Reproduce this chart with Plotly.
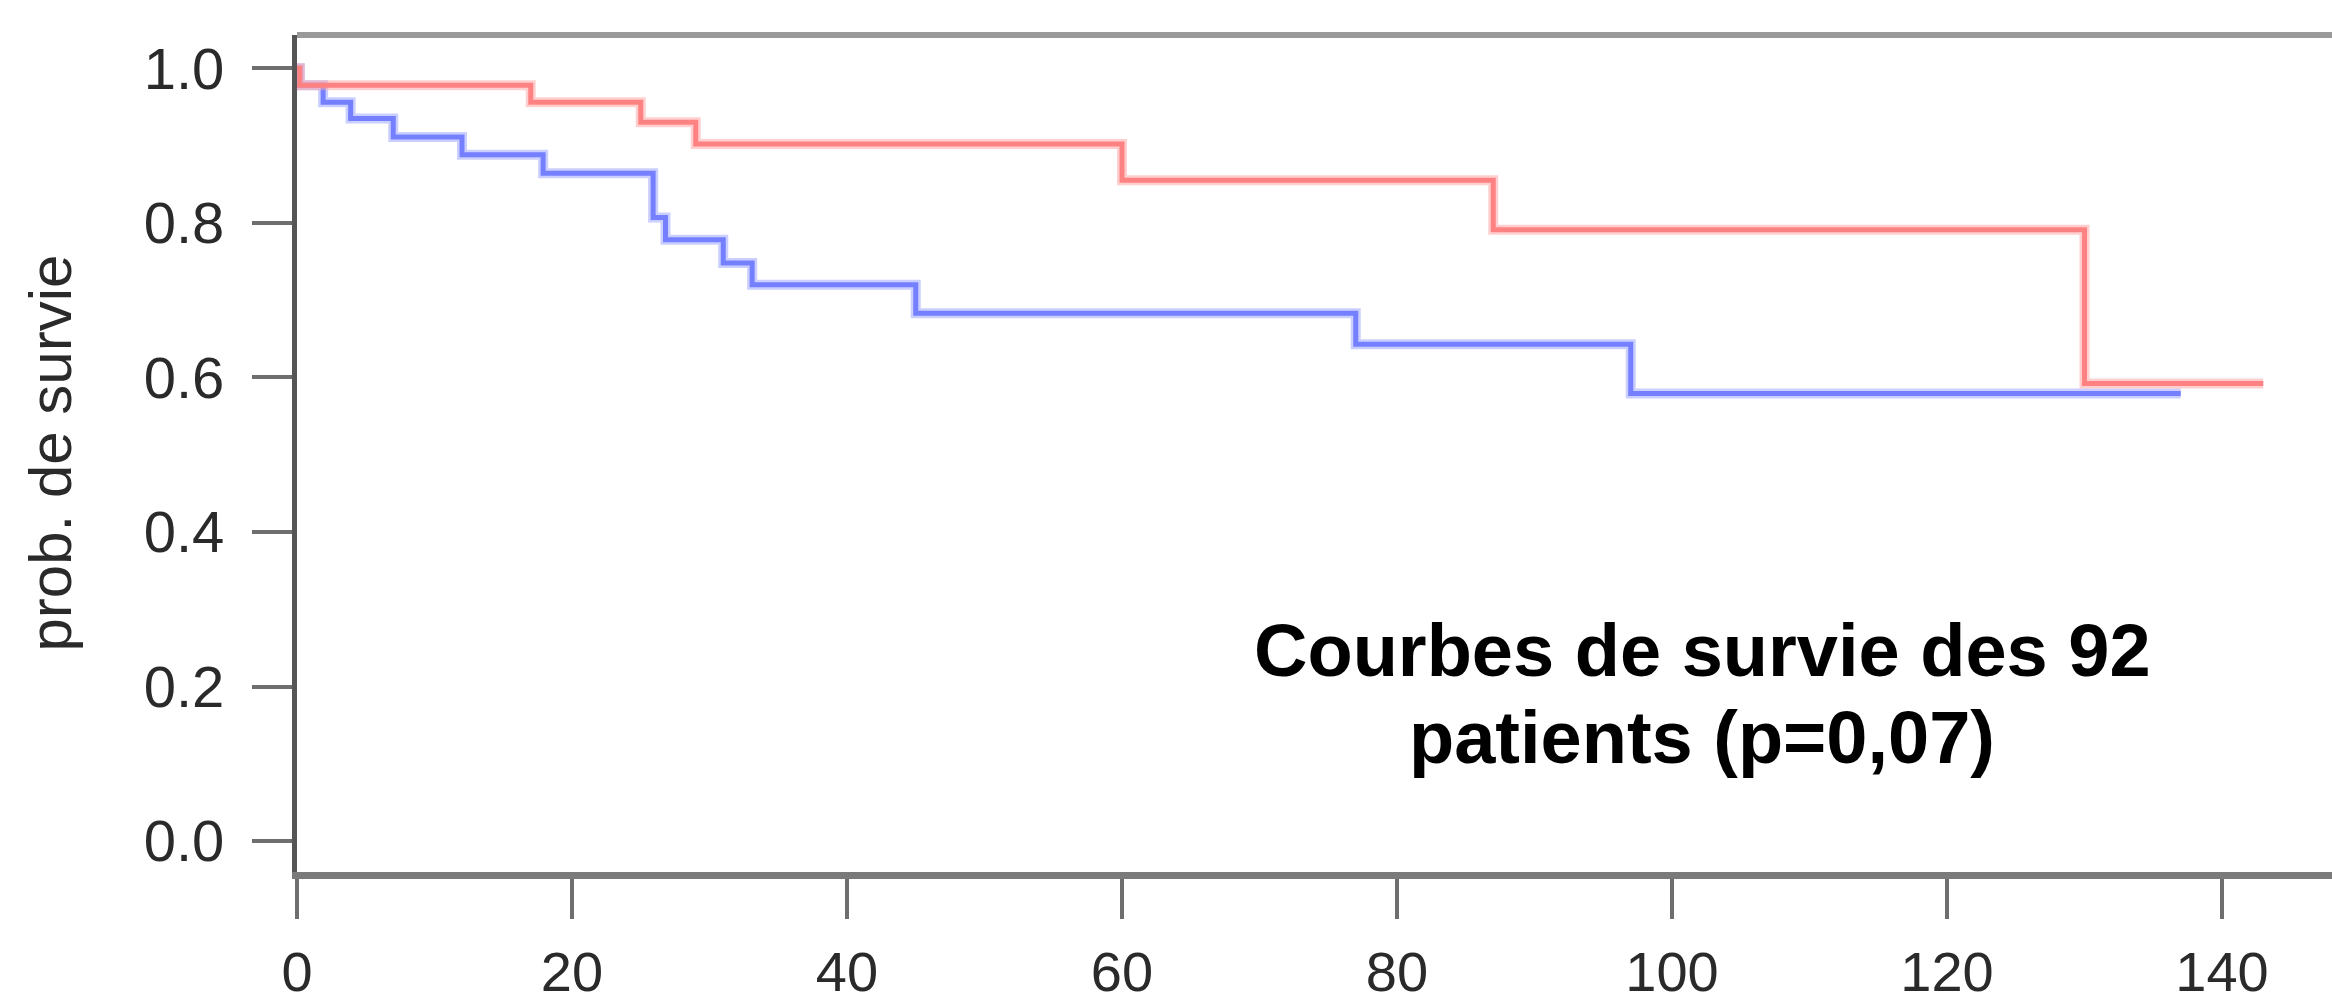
import plotly.graph_objects as go

# ---- data (Kaplan-Meier style step curves) ----
red_times = [0, 0.2, 17, 25, 29, 60, 87, 130, 143]
red_surv = [1.0, 0.978, 0.956, 0.930, 0.902, 0.855, 0.791, 0.592, 0.592]

blue_times = [0, 0.2, 1.9, 3.9, 7, 12, 17.9, 25.9, 26.8, 31, 33.1, 45, 77, 97, 137]
blue_surv = [1.0, 0.978, 0.956, 0.935, 0.911, 0.888, 0.864, 0.807, 0.778,
             0.748, 0.720, 0.683, 0.643, 0.579, 0.579]

x_ticks = [0, 20, 40, 60, 80, 100, 120, 140]
y_ticks = [0.0, 0.2, 0.4, 0.6, 0.8, 1.0]
y_ticktext = ["0.0", "0.2", "0.4", "0.6", "0.8", "1.0"]

y_title = "prob. de survie"
note_line1 = "Courbes de survie des 92"
note_line2 = "patients (p=0,07)"

W, H = 2332, 1007
ML, MT, MB, MR = 297, 35, 135, 0

fig = go.Figure()

# blue group: light halo + core
fig.add_trace(go.Scatter(x=blue_times, y=blue_surv, mode="lines", line_shape="hv",
                         line=dict(color="rgba(150,160,255,0.5)", width=10),
                         hoverinfo="skip", showlegend=False))
fig.add_trace(go.Scatter(x=blue_times, y=blue_surv, mode="lines", line_shape="hv",
                         line=dict(color="#7480ff", width=5), showlegend=False))
# red group: light halo + core
fig.add_trace(go.Scatter(x=red_times, y=red_surv, mode="lines", line_shape="hv",
                         line=dict(color="rgba(255,160,160,0.5)", width=10),
                         hoverinfo="skip", showlegend=False))
fig.add_trace(go.Scatter(x=red_times, y=red_surv, mode="lines", line_shape="hv",
                         line=dict(color="#ff8282", width=5), showlegend=False))

x_tick_font = dict(family="Liberation Sans, Arial, sans-serif", size=56, color="#2a2a2a")
y_tick_font = dict(family="Liberation Sans, Arial, sans-serif", size=58, color="#2a2a2a")

fig.update_layout(
    width=W, height=H,
    margin=dict(l=ML, r=MR, t=MT, b=MB, autoexpand=False),
    paper_bgcolor="white", plot_bgcolor="white",
    showlegend=False,
    xaxis=dict(range=[0, 148.0], tickvals=x_ticks, ticks="outside", ticklen=40,
               tickwidth=4, tickcolor="#6e6e6e", showline=True, linecolor="#7a7a7a",
               linewidth=7, showgrid=False, zeroline=False, tickfont=x_tick_font,
               ticklabelstandoff=5, automargin=False),
    yaxis=dict(range=[-0.04, 1.043], tickvals=y_ticks, ticktext=y_ticktext,
               ticks="outside", ticklen=40, tickwidth=4, tickcolor="#6e6e6e",
               showline=True, linecolor="#555555", linewidth=5, showgrid=False,
               zeroline=False, tickfont=y_tick_font, ticklabelstandoff=16,
               automargin=False),
)

# top border of the box
fig.add_shape(type="line", xref="paper", yref="paper", x0=0, x1=1, y0=1, y1=1,
              line=dict(color="#9a9a9a", width=6))

# y-axis title (rotated)
fig.add_annotation(text=y_title, xref="paper", yref="paper",
                   x=(50 - ML) / (W - ML - MR), y=0.5, xanchor="center", yanchor="middle",
                   textangle=-90, showarrow=False,
                   font=dict(family="Liberation Sans, Arial, sans-serif", size=60, color="#2a2a2a"))

# text in the plot
note_font = dict(family="Liberation Sans, Arial, sans-serif", size=74, color="black")
fig.add_annotation(text="<b>" + note_line1 + "</b>", x=102.2, y=0.247, xref="x", yref="y",
                   xanchor="center", yanchor="middle", showarrow=False, font=note_font)
fig.add_annotation(text="<b>" + note_line2 + "</b>", x=102.2, y=0.134, xref="x", yref="y",
                   xanchor="center", yanchor="middle", showarrow=False, font=note_font)

# remove the default page margin so the figure sits at the window's top-left corner
fig.write_html("out.html", config={"displayModeBar": False},
               post_script="document.body.style.margin='0px';")
